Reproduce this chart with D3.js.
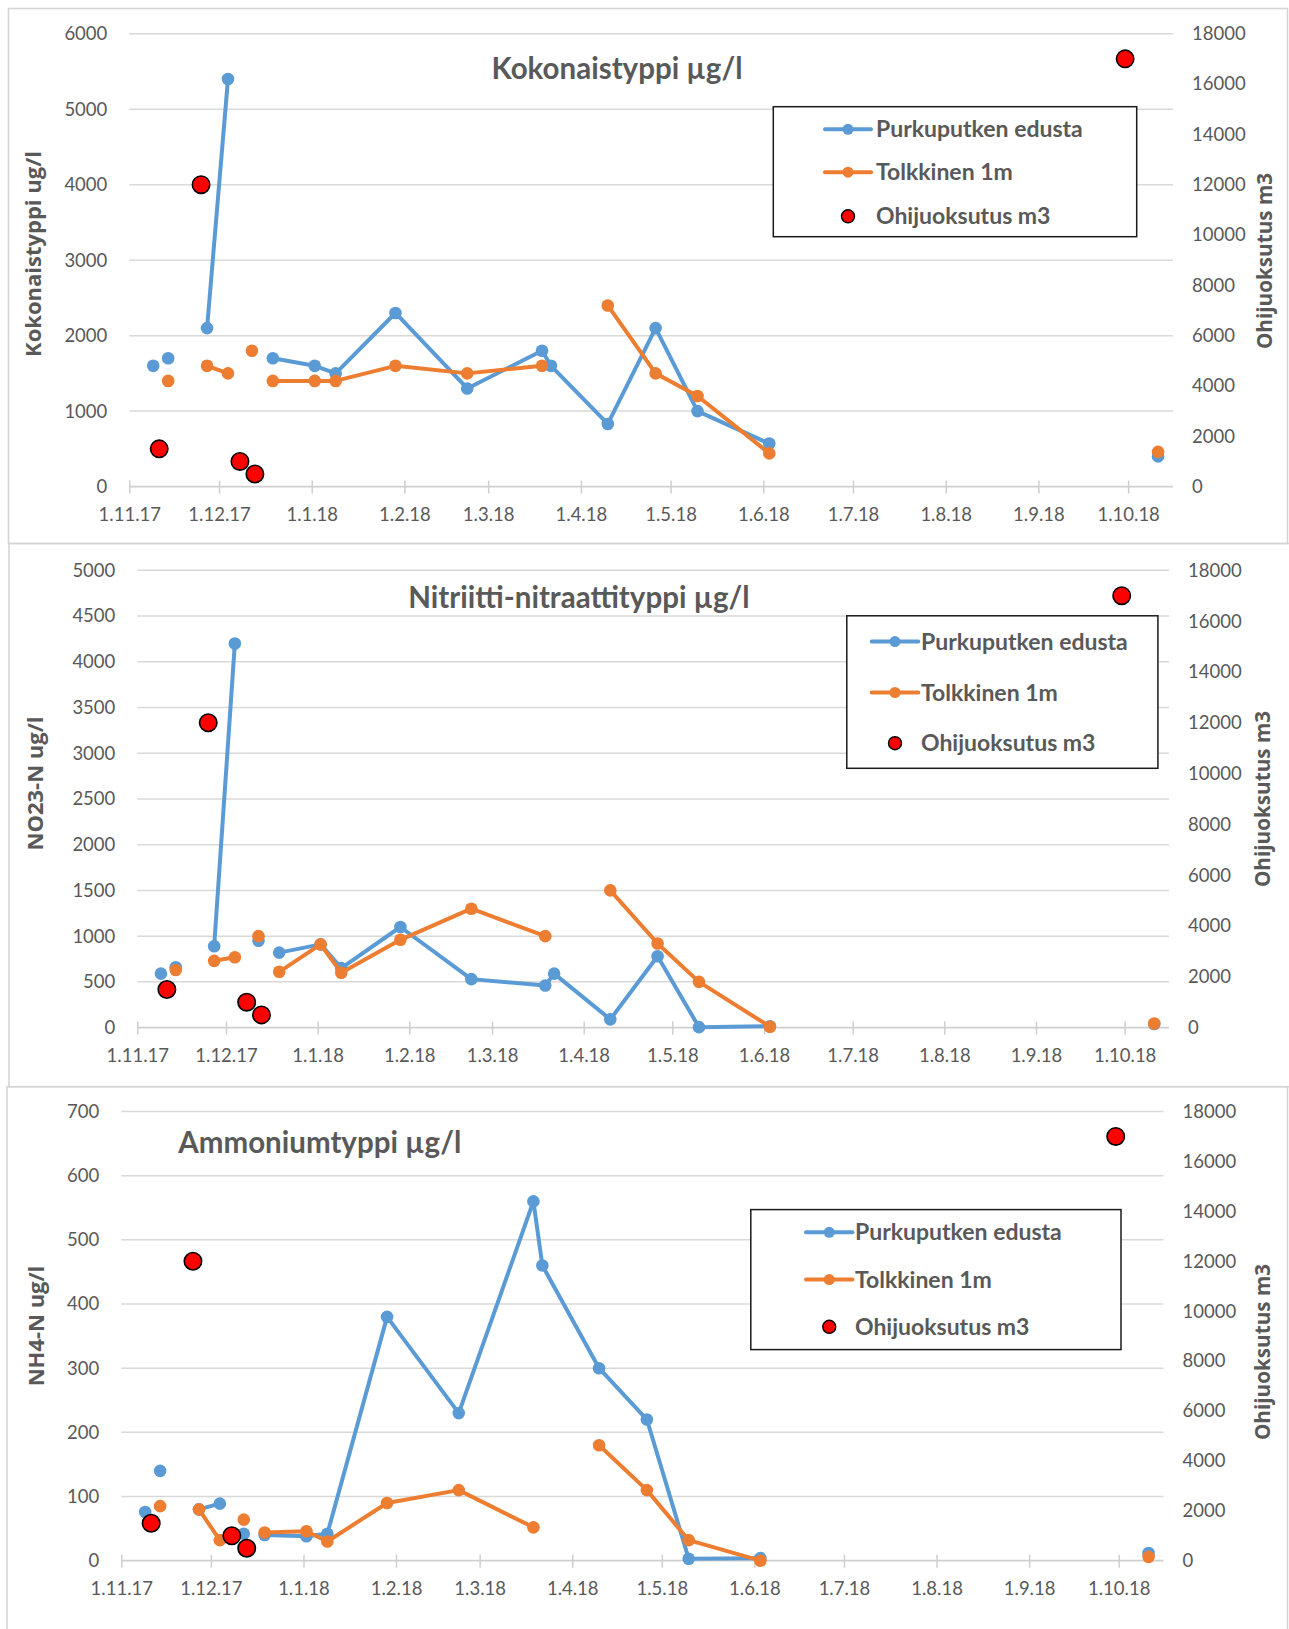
<!DOCTYPE html>
<html>
<head>
<meta charset="utf-8">
<script src="https://cdn.jsdelivr.net/npm/d3@7"></script>
<style>
  body { margin: 0; background: #fff; }
  svg { display: block; }
</style>
</head>
<body>
<svg id="chart" width="1289" height="1629"></svg>
<script>
// Sampling dates shared by all series (a missing value leaves a gap in the line)
const sampleDates = [
  "2017-11-09", "2017-11-11", "2017-11-14", "2017-11-25", "2017-11-27",
  "2017-12-04", "2017-12-08", "2017-12-12", "2017-12-13", "2017-12-19",
  "2018-01-02", "2018-01-09", "2018-01-29", "2018-02-22", "2018-03-19",
  "2018-03-22", "2018-04-10", "2018-04-26", "2018-05-10", "2018-06-03",
  "2018-09-30", "2018-10-11"
];

const seriesNames = ["Purkuputken edusta", "Tolkkinen 1m", "Ohijuoksutus m3"];

// Kokonaistyppi µg/l
const totalNOutlet    = [1600, null, 1700, null, 2100, 5400, null, null, null, 1700, 1600, 1500, 2300, 1300, 1800, 1600, 830, 2100, 1000, 570, null, 400];
const totalNTolkkinen = [null, null, 1400, null, 1600, 1500, null, 1800, null, 1400, 1400, 1400, 1600, 1500, 1600, null, 2400, 1500, 1200, 440, null, 460];

// Nitriitti-nitraattityppi µg/l
const no23Outlet    = [590, null, 660, null, 890, 4200, null, 950, null, 820, 910, 650, 1100, 530, 460, 590, 90, 780, 5, 15, null, 40];
const no23Tolkkinen = [null, null, 630, null, 730, 770, null, 1000, null, 610, 910, 600, 960, 1300, 1000, null, 1500, 920, 500, 10, null, 45];

// Ammoniumtyppi µg/l
const nh4Outlet    = [76, null, 140, null, 80, 89, null, 42, null, 40, 38, 42, 380, 230, 560, 460, 300, 220, 3, 4, null, 12];
const nh4Tolkkinen = [null, null, 85, null, 80, 32, null, 64, null, 44, 46, 30, 90, 110, 52, null, 180, 110, 32, 0, null, 6];

// Ohijuoksutus m3 (secondary axis)
const bypassFlow = [null, 1500, null, 12000, null, null, 1000, null, 500, null, null, null, null, null, null, null, null, null, null, null, 17000, null];

// Axis ticks
const totalNTicks = [0, 1000, 2000, 3000, 4000, 5000, 6000];
const no23Ticks   = [0, 500, 1000, 1500, 2000, 2500, 3000, 3500, 4000, 4500, 5000];
const nh4Ticks    = [0, 100, 200, 300, 400, 500, 600, 700];
const flowTicks   = [0, 2000, 4000, 6000, 8000, 10000, 12000, 14000, 16000, 18000];
const dateRange   = ["2017-11-01", "2018-10-16"];

const COLORS = { outlet: "#5B9BD5", tolkkinen: "#ED7D31", flow: "#FF0000" };
const TEXT = "#595959";
const GRID = "#d9d9d9";
const TICK_FONT = "Lato, 'Open Sans', sans-serif";
const BOLD_FONT = "Lato, 'Open Sans', sans-serif";
const AXIS_TITLE_FONT = "'Open Sans', Lato, sans-serif";

const parseDay = d3.utcParse("%Y-%m-%d");
const dates = sampleDates.map(parseDay);

const panels = [
  {
    title: "Kokonaistyppi µg/l", yTitle: "Kokonaistyppi ug/l",
    outlet: totalNOutlet, tolkkinen: totalNTolkkinen, yTicks: totalNTicks,
    frame: { x0: 8.5, y0: 8.5, x1: 1287.5, y1: 543.5 },
    plot: { x0: 129.3, x1: 1173, y0: 33.7, y1: 486.6 },
    titleAt: { x: 617, y: 79, anchor: "middle" },
    yTitleAt: { x: 41, y: 254 }, y2TitleAt: { x: 1272, y: 261 },
    legend: { x0: 773.3, y0: 106.7, x1: 1136.7, y1: 236.7, rows: [129.3, 172.2, 216.3], sx0: 825, sx1: 871, tx: 876 }
  },
  {
    title: "Nitriitti-nitraattityppi µg/l", yTitle: "NO23-N ug/l",
    outlet: no23Outlet, tolkkinen: no23Tolkkinen, yTicks: no23Ticks,
    frame: { x0: 9, y0: 543.5, x1: 1300, y1: 1086.7 },
    plot: { x0: 137.3, x1: 1169, y0: 570.3, y1: 1027.6 },
    titleAt: { x: 579, y: 608, anchor: "middle" },
    yTitleAt: { x: 43, y: 783.5 }, y2TitleAt: { x: 1270, y: 799 },
    legend: { x0: 846.8, y0: 615.8, x1: 1157.9, y1: 768.3, rows: [641.6, 692.5, 743.2], sx0: 871.7, sx1: 918.3, tx: 921 }
  },
  {
    title: "Ammoniumtyppi µg/l", yTitle: "NH4-N ug/l",
    outlet: nh4Outlet, tolkkinen: nh4Tolkkinen, yTicks: nh4Ticks,
    frame: { x0: 7, y0: 1086.7, x1: 1287.5, y1: 1700 },
    plot: { x0: 121.3, x1: 1163.5, y0: 1111.5, y1: 1560.7 },
    titleAt: { x: 178.3, y: 1153, anchor: "start" },
    yTitleAt: { x: 44, y: 1326 }, y2TitleAt: { x: 1270, y: 1352 },
    legend: { x0: 750.8, y0: 1209.6, x1: 1121, y1: 1349.6, rows: [1232.3, 1279.6, 1326.8], sx0: 806, sx1: 852.5, tx: 855 }
  }
];

const svg = d3.select("#chart");
svg.append("rect").attr("width", 1289).attr("height", 1629).attr("fill", "#fff");

panels.forEach(p => drawPanel(p));

function drawPanel(p) {
  const g = svg.append("g");
  const { plot } = p;

  // panel frame
  g.append("rect")
    .attr("x", p.frame.x0).attr("y", p.frame.y0)
    .attr("width", p.frame.x1 - p.frame.x0).attr("height", p.frame.y1 - p.frame.y0)
    .attr("fill", "none").attr("stroke", "#d4d4d4").attr("stroke-width", 1.5);

  const x = d3.scaleUtc().domain(dateRange.map(parseDay)).range([plot.x0, plot.x1]);
  const y = d3.scaleLinear().domain([0, d3.max(p.yTicks)]).range([plot.y1, plot.y0]);
  const y2 = d3.scaleLinear().domain([0, d3.max(flowTicks)]).range([plot.y1, plot.y0]);

  // horizontal gridlines
  g.append("g").selectAll("line").data(p.yTicks.filter(t => t > 0)).join("line")
    .attr("x1", plot.x0).attr("x2", plot.x1)
    .attr("y1", d => y(d)).attr("y2", d => y(d))
    .attr("stroke", GRID).attr("stroke-width", 1.5);

  // left axis labels
  const yAxis = g.append("g").attr("transform", `translate(${plot.x0},0)`)
    .call(d3.axisLeft(y).tickValues(p.yTicks).tickSize(0).tickPadding(22).tickFormat(d3.format("d")));
  yAxis.select(".domain").remove();
  yAxis.selectAll("text").attr("fill", TEXT).style("font-family", TICK_FONT).style("font-size", "18.5px");

  // right axis labels
  const y2Axis = g.append("g").attr("transform", `translate(${plot.x1},0)`)
    .call(d3.axisRight(y2).tickValues(flowTicks).tickSize(0).tickPadding(19).tickFormat(d3.format("d")));
  y2Axis.select(".domain").remove();
  y2Axis.selectAll("text").attr("fill", TEXT).style("font-family", TICK_FONT).style("font-size", "18.5px");

  // date axis
  const months = d3.utcMonth.range(parseDay(dateRange[0]), x.domain()[1]);
  const xAxis = g.append("g").attr("transform", `translate(0,${plot.y1})`)
    .call(d3.axisBottom(x).tickValues(months).tickSizeInner(6).tickSizeOuter(0).tickPadding(15)
      .tickFormat(d3.utcFormat("%-d.%-m.%y")));
  xAxis.select(".domain").attr("stroke", "#cfcfcf").attr("stroke-width", 1.8)
    .attr("d", `M${plot.x0},0H${plot.x1}`);
  xAxis.selectAll(".tick line").attr("stroke", "#cfcfcf").attr("stroke-width", 1.5)
    .attr("y1", -6).attr("y2", 7);
  xAxis.selectAll(".tick text").attr("fill", TEXT)
    .style("font-family", TICK_FONT).style("font-size", "18.5px");

  // axis titles
  g.append("text")
    .attr("transform", `translate(${p.yTitleAt.x},${p.yTitleAt.y}) rotate(-90)`)
    .attr("text-anchor", "middle").attr("fill", TEXT)
    .style("font-family", AXIS_TITLE_FONT).style("font-weight", 700).style("font-size", "22px")
    .text(p.yTitle);
  g.append("text")
    .attr("transform", `translate(${p.y2TitleAt.x},${p.y2TitleAt.y}) rotate(-90)`)
    .attr("text-anchor", "middle").attr("fill", TEXT)
    .style("font-family", AXIS_TITLE_FONT).style("font-weight", 700).style("font-size", "20.7px")
    .text(seriesNames[2]);

  // chart title
  g.append("text")
    .attr("x", p.titleAt.x).attr("y", p.titleAt.y).attr("text-anchor", p.titleAt.anchor)
    .attr("fill", TEXT)
    .style("font-family", BOLD_FONT).style("font-weight", 700).style("font-size", "29.5px")
    .text(p.title);

  // measurement series
  const line = d3.line()
    .defined(d => d.v != null)
    .x(d => x(d.date)).y(d => y(d.v));

  [["outlet", p.outlet], ["tolkkinen", p.tolkkinen]].forEach(([key, values]) => {
    const pts = dates.map((date, i) => ({ date, v: values[i] }));
    const s = g.append("g");
    s.append("path").datum(pts).attr("d", line)
      .attr("fill", "none").attr("stroke", COLORS[key]).attr("stroke-width", 4)
      .attr("stroke-linejoin", "round").attr("stroke-linecap", "round");
    s.selectAll("circle").data(pts.filter(d => d.v != null)).join("circle")
      .attr("cx", d => x(d.date)).attr("cy", d => y(d.v)).attr("r", 6.3)
      .attr("fill", COLORS[key]);
  });

  // bypass volumes on secondary axis
  const flowPts = dates.map((date, i) => ({ date, v: bypassFlow[i] })).filter(d => d.v != null);
  g.append("g").selectAll("circle").data(flowPts).join("circle")
    .attr("cx", d => x(d.date)).attr("cy", d => y2(d.v)).attr("r", 8.7)
    .attr("fill", COLORS.flow).attr("stroke", "#000").attr("stroke-width", 1.6);

  // legend
  const L = p.legend;
  const lg = g.append("g");
  lg.append("rect").attr("x", L.x0).attr("y", L.y0)
    .attr("width", L.x1 - L.x0).attr("height", L.y1 - L.y0)
    .attr("fill", "#fff").attr("stroke", "#1a1a1a").attr("stroke-width", 1.5);
  const keys = ["outlet", "tolkkinen", "flow"];
  keys.forEach((key, i) => {
    const cy = L.rows[i];
    const mx = (L.sx0 + L.sx1) / 2;
    if (key !== "flow") {
      lg.append("line").attr("x1", L.sx0).attr("x2", L.sx1).attr("y1", cy).attr("y2", cy)
        .attr("stroke", COLORS[key]).attr("stroke-width", 4).attr("stroke-linecap", "round");
      lg.append("circle").attr("cx", mx).attr("cy", cy).attr("r", 5.5).attr("fill", COLORS[key]);
    } else {
      lg.append("circle").attr("cx", mx).attr("cy", cy).attr("r", 6.5)
        .attr("fill", COLORS.flow).attr("stroke", "#000").attr("stroke-width", 1.4);
    }
    lg.append("text").attr("x", L.tx).attr("y", cy).attr("dy", "0.35em")
      .attr("fill", TEXT)
      .style("font-family", BOLD_FONT).style("font-weight", 700).style("font-size", "23px")
      .text(seriesNames[i]);
  });
}
</script>
</body>
</html>
